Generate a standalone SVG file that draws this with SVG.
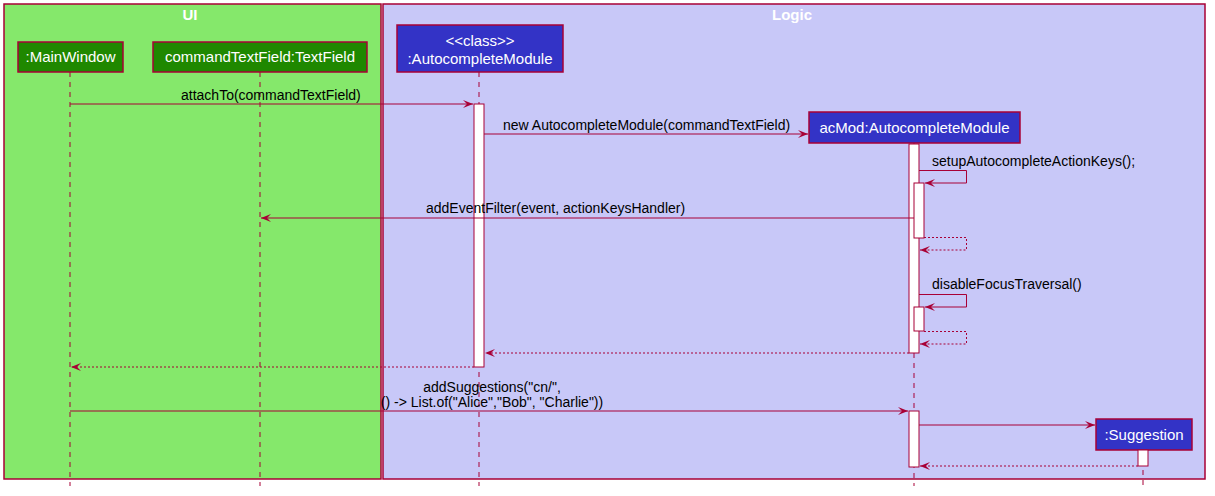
<svg xmlns="http://www.w3.org/2000/svg" width="1215" height="496" viewBox="0 0 1215 496">
<style>
.frame{stroke:#A80036;stroke-width:1.5}
.ftitle{font-family:"Liberation Sans",Arial,sans-serif;font-size:15px;font-weight:bold;fill:#FFFFFF;text-anchor:middle}
.pg{fill:#1F8800;stroke:#A80036;stroke-width:1.5}
.pb{fill:#3333C6;stroke:#A80036;stroke-width:1.5}
.pt{font-family:"Liberation Sans",Arial,sans-serif;font-size:15px;fill:#FFFFFF;text-anchor:middle}
.life{stroke:#A80036;stroke-width:1;stroke-dasharray:5,5;fill:none}
.act{fill:#FFFFFF;stroke:#A80036;stroke-width:1}
.msg{stroke:#A80036;stroke-width:1;fill:none}
.ret{stroke:#A80036;stroke-width:1;fill:none;stroke-dasharray:2,2}
.lbl{font-family:"Liberation Sans",Arial,sans-serif;font-size:14px;fill:#000000}
</style>
<defs>
<marker id="ah" viewBox="0 0 10 8" refX="10" refY="4" markerWidth="10" markerHeight="8" markerUnits="userSpaceOnUse" orient="auto">
<path d="M0,0 L10,4 L0,8 L4,4 Z" fill="#A80036"/>
</marker>
</defs>
<g id="frames">
<rect id="frame-ui" class="frame" x="4" y="4" width="377" height="475" fill="#85E86B"/>
<text class="ftitle" x="190" y="20">UI</text>
<rect id="frame-logic" class="frame" x="383" y="4" width="822" height="475" fill="#C8C8F8"/>
<text class="ftitle" x="792" y="20">Logic</text>
</g>
<g id="lifelines">
<line class="life" x1="70" y1="72" x2="70" y2="486"/>
<line class="life" x1="260" y1="72" x2="260" y2="486"/>
<line class="life" x1="479" y1="72" x2="479" y2="486"/>
<line class="life" x1="914" y1="143" x2="914" y2="486"/>
<line class="life" x1="1143" y1="450" x2="1143" y2="486"/>
</g>
<g id="mainwindow">
<rect class="pg" x="18" y="42" width="105" height="30"/>
<text class="pt" x="70.5" y="62">:MainWindow</text>
</g>
<g id="textfield">
<rect class="pg" x="153" y="42" width="214" height="30"/>
<text class="pt" x="260" y="62">commandTextField:TextField</text>
</g>
<g id="classmodule">
<rect class="pb" x="397" y="25" width="166" height="47"/>
<text class="pt" x="480" y="46">&lt;&lt;class&gt;&gt;</text>
<text class="pt" x="480" y="64">:AutocompleteModule</text>
</g>
<g id="acmod">
<rect class="pb" x="809" y="112" width="211" height="31"/>
<text class="pt" x="914.5" y="133">acMod:AutocompleteModule</text>
</g>
<g id="suggestion">
<rect class="pb" x="1096" y="419" width="96" height="31"/>
<text class="pt" x="1144" y="440">:Suggestion</text>
</g>
<g id="activations">
<rect class="act" x="474" y="104" width="10" height="263"/>
<rect class="act" x="909" y="144" width="10" height="209"/>
<rect class="act" x="914" y="183" width="10" height="55"/>
<rect class="act" x="914" y="307" width="10" height="24"/>
<rect class="act" x="909" y="411" width="10" height="56"/>
<rect class="act" x="1138" y="450" width="10" height="16"/>
</g>
<g id="connectors">
<line class="msg" x1="70" y1="104" x2="473" y2="104" marker-end="url(#ah)"/>
<text class="lbl" x="181" y="100">attachTo(commandTextField)</text>
<line class="msg" x1="484" y1="134" x2="808" y2="134" marker-end="url(#ah)"/>
<text class="lbl" x="503" y="130">new AutocompleteModule(commandTextField)</text>
<polyline class="msg" points="919,170.5 966.5,170.5 966.5,183 925,183" marker-end="url(#ah)"/>
<text class="lbl" x="932" y="166">setupAutocompleteActionKeys();</text>
<line class="msg" x1="914" y1="218" x2="261" y2="218" marker-end="url(#ah)"/>
<text class="lbl" x="426" y="213">addEventFilter(event, actionKeysHandler)</text>
<polyline class="ret" points="924,237.5 966.5,237.5 966.5,250 920,250" marker-end="url(#ah)"/>
<polyline class="msg" points="919,294.5 966.5,294.5 966.5,307 925,307" marker-end="url(#ah)"/>
<text class="lbl" x="932" y="289">disableFocusTraversal()</text>
<polyline class="ret" points="924,331.5 966.5,331.5 966.5,344 920,344" marker-end="url(#ah)"/>
<line class="ret" x1="909" y1="353" x2="485" y2="353" marker-end="url(#ah)"/>
<line class="ret" x1="474" y1="367" x2="71" y2="367" marker-end="url(#ah)"/>
<line class="msg" x1="70" y1="411" x2="908" y2="411" marker-end="url(#ah)"/>
<text class="lbl" x="492" y="392" text-anchor="middle">addSuggestions("cn/",</text>
<text class="lbl" x="492" y="407" text-anchor="middle">() -&gt; List.of("Alice","Bob", "Charlie"))</text>
<line class="msg" x1="919" y1="425" x2="1095" y2="425" marker-end="url(#ah)"/>
<line class="ret" x1="1138" y1="466" x2="920" y2="466" marker-end="url(#ah)"/>
</g>
</svg>
